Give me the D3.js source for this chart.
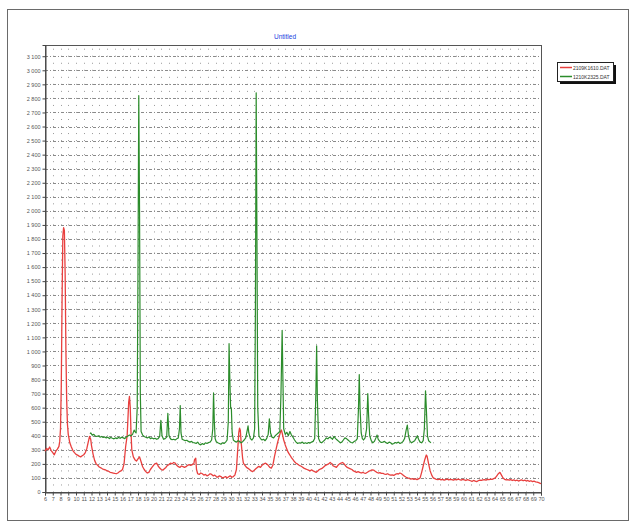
<!DOCTYPE html>
<html>
<head>
<meta charset="utf-8">
<script src="https://cdn.jsdelivr.net/npm/d3@7/dist/d3.min.js"></script>
<style>
  html, body { margin: 0; padding: 0; background: #fff; }
  svg { display: block; font-family: Arial, "Liberation Sans", sans-serif; }
</style>
</head>
<body>
<svg id="chart" width="631" height="525"></svg>
<script>
// Diffraction scans: [2θ (deg), counts]
const scanRed = [
  [6.0,290],[6.2,310],[6.4,300],[6.6,320],[6.8,295],[7.0,280],[7.2,265],[7.4,290],[7.6,305],[7.8,325],
  [7.9,360],[8.0,450],[8.1,750],[8.2,1350],[8.3,1820],[8.4,1880],[8.5,1860],[8.6,1550],[8.7,1000],[8.8,650],
  [8.9,480],[9.0,410],[9.2,350],[9.4,320],[9.6,295],[9.8,280],[10.0,268],[10.2,262],[10.4,255],[10.6,250],
  [10.8,258],[11.0,265],[11.2,280],[11.4,310],[11.6,360],[11.75,395],[11.9,375],[12.0,330],[12.2,270],[12.4,225],
  [12.6,200],[12.8,190],[13.0,178],[13.2,172],[13.4,165],[13.6,160],[13.8,158],[14.0,150],[14.2,148],[14.4,140],
  [14.6,138],[14.8,135],[15.0,132],[15.2,130],[15.4,135],[15.6,145],[15.8,150],[16.0,160],[16.2,200],[16.4,320],
  [16.6,400],[16.7,520],[16.8,640],[16.9,680],[17.0,600],[17.1,420],[17.2,300],[17.4,250],[17.6,230],[17.8,220],
  [18.0,235],[18.2,250],[18.4,215],[18.6,180],[18.8,160],[19.0,145],[19.2,135],[19.4,140],[19.6,160],[19.8,175],
  [20.0,190],[20.2,200],[20.4,205],[20.6,185],[20.8,170],[21.0,160],[21.2,155],[21.4,165],[21.6,175],[21.8,190],
  [22.0,195],[22.2,205],[22.4,200],[22.6,210],[22.8,205],[23.0,190],[23.2,180],[23.4,175],[23.6,185],[23.8,180],
  [24.0,175],[24.2,180],[24.4,190],[24.6,195],[24.8,190],[25.0,195],[25.2,200],[25.3,230],[25.45,240],[25.55,160],
  [25.7,130],[25.9,125],[26.1,135],[26.3,130],[26.5,120],[26.7,125],[26.9,115],[27.1,120],[27.3,130],[27.5,125],
  [27.7,115],[27.9,120],[28.1,110],[28.3,105],[28.5,115],[28.7,110],[28.9,100],[29.1,105],[29.3,110],[29.5,100],
  [29.7,108],[29.9,115],[30.1,105],[30.3,110],[30.5,120],[30.7,160],[30.9,330],[31.0,420],[31.1,455],[31.2,440],
  [31.3,360],[31.4,300],[31.5,240],[31.6,205],[31.8,190],[32.0,175],[32.2,168],[32.4,160],[32.6,150],[32.8,145],
  [33.0,155],[33.2,165],[33.4,175],[33.6,182],[33.8,175],[34.0,190],[34.2,198],[34.4,205],[34.6,200],[34.8,190],
  [35.0,175],[35.2,170],[35.4,190],[35.6,250],[35.8,300],[36.0,350],[36.2,390],[36.4,430],[36.5,441],[36.6,420],
  [36.8,370],[37.0,335],[37.2,305],[37.4,280],[37.6,263],[37.8,245],[38.0,230],[38.2,215],[38.4,205],[38.6,198],
  [38.8,190],[39.0,185],[39.2,178],[39.4,170],[39.6,165],[39.8,160],[40.0,155],[40.2,150],[40.4,158],[40.6,150],
  [40.8,145],[41.0,140],[41.2,150],[41.4,160],[41.6,165],[41.8,170],[42.0,180],[42.2,190],[42.4,195],[42.6,200],
  [42.8,210],[43.0,200],[43.2,185],[43.4,180],[43.6,175],[43.8,190],[44.0,200],[44.2,205],[44.4,210],[44.6,200],
  [44.8,185],[45.0,175],[45.2,170],[45.4,165],[45.6,160],[45.8,150],[46.0,145],[46.2,140],[46.4,145],[46.6,140],
  [46.8,135],[47.0,140],[47.2,135],[47.4,133],[47.6,140],[47.8,148],[48.0,152],[48.2,158],[48.4,156],[48.6,148],
  [48.8,140],[49.0,135],[49.2,138],[49.4,132],[49.6,133],[49.8,128],[50.0,125],[50.2,130],[50.4,124],[50.6,120],
  [50.8,122],[51.0,118],[51.2,125],[51.4,130],[51.6,128],[51.8,135],[52.0,130],[52.2,120],[52.4,112],[52.6,105],
  [52.8,100],[53.0,96],[53.2,92],[53.4,95],[53.6,90],[53.8,94],[54.0,88],[54.2,93],[54.4,100],[54.6,140],
  [54.8,185],[55.0,230],[55.2,263],[55.3,255],[55.5,200],[55.7,150],[55.9,120],[56.1,100],[56.3,95],[56.5,90],
  [56.7,88],[56.9,92],[57.1,86],[57.3,90],[57.5,84],[57.7,88],[57.9,92],[58.1,86],[58.3,90],[58.5,88],
  [58.7,84],[58.9,90],[59.1,86],[59.3,92],[59.5,88],[59.7,85],[59.9,90],[60.1,86],[60.3,82],[60.5,88],
  [60.7,84],[60.9,80],[61.1,76],[61.3,82],[61.5,78],[61.7,74],[61.9,80],[62.1,85],[62.3,82],[62.5,86],
  [62.7,88],[62.9,84],[63.1,90],[63.3,88],[63.5,92],[63.7,90],[63.9,95],[64.1,100],[64.3,115],[64.5,130],
  [64.7,140],[64.9,120],[65.1,100],[65.3,90],[65.5,86],[65.7,88],[65.9,84],[66.1,88],[66.3,82],[66.5,86],
  [66.7,80],[66.9,84],[67.1,78],[67.3,82],[67.5,86],[67.7,80],[67.9,84],[68.1,78],[68.3,82],[68.5,76],
  [68.7,80],[68.9,74],[69.1,78],[69.3,72],[69.5,70],[69.7,66],[69.9,62],[70.0,60]
];

const scanGreen = [
  [11.8,415],[11.9,420],[12.1,405],[12.3,410],[12.5,398],[12.7,395],[12.9,400],[13.1,390],[13.3,395],[13.5,388],
  [13.7,392],[13.9,385],[14.1,390],[14.3,380],[14.5,388],[14.7,382],[14.9,378],[15.1,385],[15.3,380],[15.5,388],
  [15.7,382],[15.9,390],[16.1,385],[16.3,380],[16.5,392],[16.7,398],[16.9,405],[17.1,400],[17.3,410],[17.5,440],
  [17.6,430],[17.75,420],[17.9,600],[18.0,1600],[18.1,2820],[18.2,2000],[18.3,700],[18.4,430],[18.6,405],[18.8,395],
  [19.0,390],[19.2,385],[19.4,392],[19.6,380],[19.8,385],[20.0,378],[20.2,382],[20.4,375],[20.6,380],[20.8,395],
  [20.95,510],[21.1,400],[21.3,375],[21.5,380],[21.7,390],[21.85,560],[22.0,400],[22.2,378],[22.4,372],[22.6,375],
  [22.8,370],[23.0,378],[23.2,385],[23.35,450],[23.45,615],[23.55,420],[23.7,375],[23.9,370],[24.1,365],[24.3,368],
  [24.5,360],[24.7,355],[24.9,360],[25.1,352],[25.3,350],[25.5,345],[25.7,355],[25.9,340],[26.1,335],[26.3,345],
  [26.5,338],[26.7,350],[26.9,345],[27.1,352],[27.3,355],[27.5,370],[27.65,450],[27.75,705],[27.85,500],[27.95,380],
  [28.1,358],[28.3,350],[28.5,345],[28.7,340],[28.9,350],[29.1,345],[29.3,355],[29.5,370],[29.65,500],[29.75,1055],
  [29.85,800],[29.95,600],[30.05,590],[30.15,420],[30.3,370],[30.5,360],[30.7,355],[30.9,365],[31.1,360],[31.3,350],
  [31.5,358],[31.7,370],[31.9,385],[32.1,440],[32.2,470],[32.3,420],[32.5,380],[32.7,370],[32.9,385],[33.05,450],
  [33.15,1300],[33.25,2840],[33.35,1800],[33.45,600],[33.6,400],[33.8,380],[34.0,370],[34.2,375],[34.4,365],[34.6,380],
  [34.8,410],[34.95,520],[35.1,420],[35.3,390],[35.5,385],[35.7,400],[35.9,410],[36.1,420],[36.3,430],[36.45,700],
  [36.6,1150],[36.7,800],[36.8,450],[37.0,410],[37.2,425],[37.4,400],[37.6,430],[37.8,405],[38.0,390],[38.2,370],
  [38.4,355],[38.6,345],[38.8,350],[39.0,348],[39.2,355],[39.4,345],[39.6,350],[39.8,345],[40.0,352],[40.2,348],
  [40.4,355],[40.6,360],[40.8,380],[40.95,700],[41.05,1040],[41.15,650],[41.3,380],[41.5,355],[41.7,350],[41.9,360],
  [42.1,370],[42.3,385],[42.5,378],[42.7,390],[42.9,385],[43.1,375],[43.3,395],[43.5,380],[43.7,370],[43.9,360],
  [44.1,350],[44.3,355],[44.5,370],[44.7,385],[44.9,380],[45.1,370],[45.3,360],[45.5,352],[45.7,350],[45.9,360],
  [46.1,365],[46.3,380],[46.45,600],[46.55,835],[46.65,600],[46.8,420],[46.95,380],[47.1,370],[47.3,385],[47.5,450],
  [47.65,700],[47.75,550],[47.9,400],[48.1,365],[48.3,350],[48.5,360],[48.7,385],[48.85,405],[49.0,375],[49.2,360],
  [49.4,352],[49.6,355],[49.8,360],[50.0,350],[50.2,345],[50.4,355],[50.6,350],[50.8,340],[51.0,345],[51.2,352],
  [51.4,348],[51.6,355],[51.8,345],[52.0,350],[52.2,360],[52.4,380],[52.6,440],[52.75,476],[52.9,400],[53.1,360],
  [53.3,350],[53.5,358],[53.7,365],[53.9,385],[54.05,400],[54.2,375],[54.4,355],[54.6,350],[54.8,365],[54.95,450],
  [55.1,720],[55.2,600],[55.35,400],[55.5,365],[55.7,355],[55.8,350]
];

const seriesNames = ["2109K1610.DAT", "1210K2325.DAT"];
const seriesColors = ["#e8403f", "#2b8c2b"];
const chartTitle = "Untitled";
const xTicks = d3.range(6, 71, 1);          // 2θ tick labels 6 … 70
const yTicks = d3.range(0, 3101, 100);      // counts tick labels 0 … 3 100

const svg = d3.select("#chart");
const plot = { left: 45, right: 541, top: 45, bottom: 492 };

// outer chart frame
svg.append("rect")
  .attr("x", 7.5).attr("y", 9.5).attr("width", 621).attr("height", 511)
  .attr("fill", "#fff").attr("stroke", "#6a6a6a").attr("stroke-width", 1);

const x = d3.scaleLinear().domain([6, 70]).range([plot.left, plot.right]);
const y = d3.scaleLinear().domain([0, 3180]).range([plot.bottom, plot.top]);

// title
svg.append("text")
  .attr("x", 285).attr("y", 39)
  .attr("text-anchor", "middle")
  .attr("font-size", 6.5).attr("fill", "#2040e0")
  .text(chartTitle);

const grid = svg.append("g");
// vertical dotted grid at every degree; dots fall on the 100 and 50 count levels
const half = y(0) - y(50);
grid.selectAll("line.v").data(xTicks.slice(1, -1)).join("line")
  .attr("class", "v")
  .attr("x1", d => Math.round(x(d)) + 0.5).attr("x2", d => Math.round(x(d)) + 0.5)
  .attr("y1", plot.bottom + 0.5).attr("y2", plot.top)
  .attr("stroke", "#9a9a9a").attr("stroke-width", 1)
  .attr("stroke-dasharray", `1,${half - 1}`);
// horizontal dashed grid at every 100 counts
grid.selectAll("line.h").data(yTicks.slice(1)).join("line")
  .attr("class", "h")
  .attr("x1", plot.left).attr("x2", plot.right)
  .attr("y1", d => Math.round(y(d)) + 0.5).attr("y2", d => Math.round(y(d)) + 0.5)
  .attr("stroke", "#8a8a8a").attr("stroke-width", 1)
  .attr("stroke-dasharray", "3,2,1,2");

// plot frame
svg.append("rect")
  .attr("x", plot.left + 0.5).attr("y", plot.top + 0.5)
  .attr("width", plot.right - plot.left).attr("height", plot.bottom - plot.top)
  .attr("fill", "none").attr("stroke", "#555").attr("stroke-width", 1);

const fmt = n => n >= 1000 ? `${Math.floor(n / 1000)} ${String(n % 1000).padStart(3, "0")}` : String(n);

// axes
const yAxis = d3.axisLeft(y).tickValues(yTicks).tickFormat(fmt).tickSize(3).tickPadding(2);
const gy = svg.append("g").attr("transform", `translate(${plot.left + 0.5},0)`).call(yAxis);
const xAxis = d3.axisBottom(x).tickValues(xTicks).tickFormat(d3.format("d")).tickSize(3).tickPadding(2);
const gx = svg.append("g").attr("transform", `translate(0,${plot.bottom + 0.5})`).call(xAxis);
[gx, gy].forEach(g => {
  g.select(".domain").attr("stroke", "#444");
  g.selectAll(".tick line").attr("stroke", "#444");
  g.selectAll(".tick text").attr("fill", "#555").attr("font-size", 5.5)
    .attr("font-family", "Arial, 'Liberation Sans', sans-serif");
});

// scan lines
const line = d3.line().x(d => x(d[0])).y(d => y(d[1]));
[scanRed, scanGreen].forEach((s, i) => {
  svg.append("path").datum(s)
    .attr("fill", "none")
    .attr("stroke", seriesColors[i])
    .attr("stroke-width", i === 0 ? 1.3 : 1.2)
    .attr("stroke-linejoin", "round")
    .attr("d", line);
});

// legend with drop shadow
const lg = svg.append("g").attr("transform", "translate(557,62)");
lg.append("rect").attr("x", 3).attr("y", 3).attr("width", 56).attr("height", 19).attr("fill", "#111");
lg.append("rect").attr("x", 0.5).attr("y", 0.5).attr("width", 56).attr("height", 19)
  .attr("fill", "#fff").attr("stroke", "#222");
seriesNames.forEach((name, i) => {
  const yy = 5.5 + i * 9;
  lg.append("line").attr("x1", 3).attr("x2", 15).attr("y1", yy).attr("y2", yy)
    .attr("stroke", seriesColors[i]).attr("stroke-width", 1.5);
  lg.append("text").attr("x", 16).attr("y", yy + 2).attr("font-size", 5)
    .attr("fill", "#333").text(name);
});
</script>
</body>
</html>
